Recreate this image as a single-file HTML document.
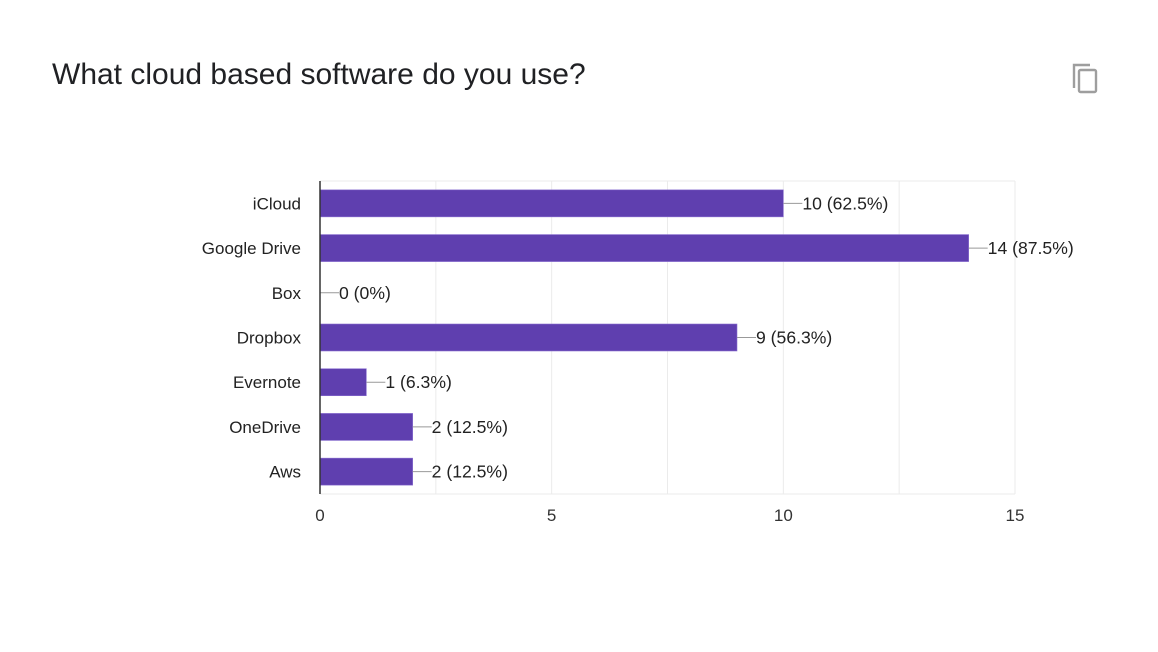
<!DOCTYPE html>
<html><head><meta charset="utf-8"><style>
body{margin:0;background:#fff;width:1158px;height:652px;overflow:hidden;font-family:"Liberation Sans",sans-serif}
#title{position:absolute;left:52px;top:58px;font-size:30px;color:#202124}
</style></head><body>
<div id="title">What cloud based software do you use?</div>
<svg style="position:absolute;left:1070px;top:62px" width="32" height="34" viewBox="0 0 32 34">
<path d="M4 26V3h16" fill="none" stroke="#9e9e9e" stroke-width="2.4"/>
<rect x="9" y="8" width="17" height="22" rx="1.5" fill="none" stroke="#9e9e9e" stroke-width="2.4"/>
</svg>
<svg id="chart" style="position:absolute;left:0;top:0" width="1158" height="652"></svg>
<script>
const categories=["iCloud","Google Drive","Box","Dropbox","Evernote","OneDrive","Aws"];
const values=[10,14,0,9,1,2,2];
const labels=["10 (62.5%)","14 (87.5%)","0 (0%)","9 (56.3%)","1 (6.3%)","2 (12.5%)","2 (12.5%)"];
const gridVals=[0,2.5,5,7.5,10,12.5,15];
const tickVals=[0,5,10,15];
const svg=document.getElementById('chart');
const NS='http://www.w3.org/2000/svg';
const x0=320,x1=1015,xmax=15,yTop=181,yBottom=494;
const xs=v=>x0+(x1-x0)*v/xmax;
const step=(yBottom-yTop)/categories.length;
const yc=i=>yTop+step*(i+0.5);
function mk(t,a){const e=document.createElementNS(NS,t);for(const k in a)e.setAttribute(k,a[k]);svg.appendChild(e);return e;}
gridVals.forEach(v=>{if(v===0)return;const l=mk('line',{x1:xs(v),x2:xs(v),y1:yTop,y2:yBottom,stroke:'#ebebeb','stroke-width':1});

});
const tl=mk('line',{x1:x0,x2:x1,y1:yTop,y2:yTop,stroke:'#ebebeb'});


const bl=mk('line',{x1:x0,x2:x1,y1:yBottom,y2:yBottom,stroke:'#ebebeb'});


tickVals.forEach(v=>{const t=mk('text',{x:xs(v),y:521,'text-anchor':'middle','font-size':17,fill:'#333'});t.textContent=v;

});
categories.forEach((c,i)=>{
const y=yc(i);
const t=mk('text',{x:301,y:y+6,'text-anchor':'end','font-size':17,fill:'#222'});t.textContent=c;


const w=xs(values[i])-x0;
if(w>0){const r=mk('rect',{x:x0,y:y-13.5,width:w,height:27,fill:'#5f3faf',stroke:'#8a6fd0','stroke-width':0.6});

}
const ex=xs(values[i]);
const ln=mk('line',{x1:ex,x2:ex+19,y1:y,y2:y,stroke:'#999','stroke-width':1});


const vt=mk('text',{x:ex+19,y:y+6,'font-size':17.6,fill:'#222'});vt.textContent=labels[i];


});
const ax=mk('line',{x1:x0,x2:x0,y1:yTop,y2:yBottom,stroke:'#333','stroke-width':1.5});


</script>
</body></html>
